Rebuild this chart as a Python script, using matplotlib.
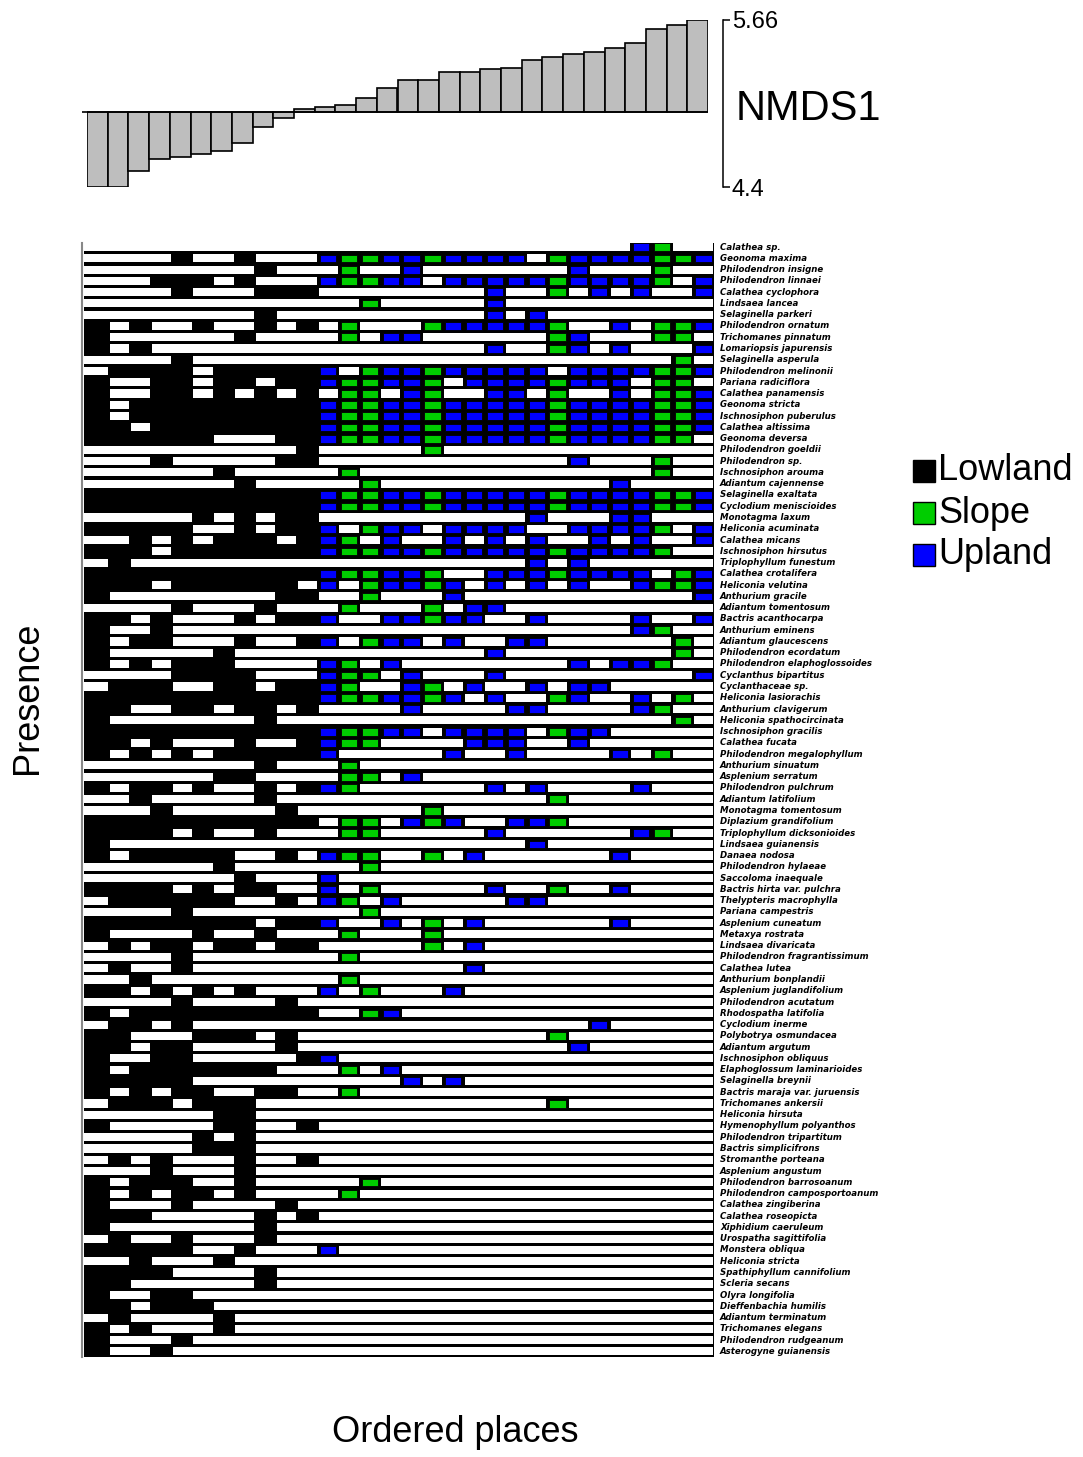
import matplotlib
matplotlib.use('Agg')
import matplotlib.pyplot as plt
from matplotlib.patches import Rectangle

# NMDS1 score of each place, in place order
nmds1 = [4.40, 4.40, 4.52, 4.61, 4.63, 4.65, 4.67, 4.73, 4.85, 4.92,
         4.99, 5.00, 5.02, 5.07, 5.15, 5.21, 5.21, 5.27, 5.27, 5.29,
         5.30, 5.36, 5.38, 5.40, 5.42, 5.45, 5.49, 5.59, 5.62, 5.66]
nmds_ref = 4.965
nmds_ticks = [4.4, 5.66]

site_type = (['Lowland'] * 11 +
             ['Upland', 'Slope', 'Slope', 'Upland', 'Upland', 'Slope', 'Upland',
              'Upland', 'Upland', 'Upland', 'Upland', 'Slope', 'Upland', 'Upland',
              'Upland', 'Upland', 'Slope', 'Slope', 'Upland'])
type_names = ['Lowland', 'Slope', 'Upland']
type_colors = {'Lowland': 'black', 'Slope': '#00CD00', 'Upland': '#0000FF'}

species = [
    'Calathea sp.', 'Geonoma maxima', 'Philodendron insigne', 'Philodendron linnaei',
    'Calathea cyclophora', 'Lindsaea lancea', 'Selaginella parkeri', 'Philodendron ornatum',
    'Trichomanes pinnatum', 'Lomariopsis japurensis', 'Selaginella asperula',
    'Philodendron melinonii', 'Pariana radiciflora', 'Calathea panamensis', 'Geonoma stricta',
    'Ischnosiphon puberulus', 'Calathea altissima', 'Geonoma deversa', 'Philodendron goeldii',
    'Philodendron sp.', 'Ischnosiphon arouma', 'Adiantum cajennense', 'Selaginella exaltata',
    'Cyclodium meniscioides', 'Monotagma laxum', 'Heliconia acuminata', 'Calathea micans',
    'Ischnosiphon hirsutus', 'Triplophyllum funestum', 'Calathea crotalifera',
    'Heliconia velutina', 'Anthurium gracile', 'Adiantum tomentosum', 'Bactris acanthocarpa',
    'Anthurium eminens', 'Adiantum glaucescens', 'Philodendron ecordatum',
    'Philodendron elaphoglossoides', 'Cyclanthus bipartitus', 'Cyclanthaceae sp.',
    'Heliconia lasiorachis', 'Anthurium clavigerum', 'Heliconia spathocircinata',
    'Ischnosiphon gracilis', 'Calathea fucata', 'Philodendron megalophyllum',
    'Anthurium sinuatum', 'Asplenium serratum', 'Philodendron pulchrum', 'Adiantum latifolium',
    'Monotagma tomentosum', 'Diplazium grandifolium', 'Triplophyllum dicksonioides',
    'Lindsaea guianensis', 'Danaea nodosa', 'Philodendron hylaeae', 'Saccoloma inaequale',
    'Bactris hirta var. pulchra', 'Thelypteris macrophylla', 'Pariana campestris',
    'Asplenium cuneatum', 'Metaxya rostrata', 'Lindsaea divaricata',
    'Philodendron fragrantissimum', 'Calathea lutea', 'Anthurium bonplandii',
    'Asplenium juglandifolium', 'Philodendron acutatum', 'Rhodospatha latifolia',
    'Cyclodium inerme', 'Polybotrya osmundacea', 'Adiantum argutum', 'Ischnosiphon obliquus',
    'Elaphoglossum laminarioides', 'Selaginella breynii', 'Bactris maraja var. juruensis',
    'Trichomanes ankersii', 'Heliconia hirsuta', 'Hymenophyllum polyanthos',
    'Philodendron tripartitum', 'Bactris simplicifrons', 'Stromanthe porteana',
    'Asplenium angustum', 'Philodendron barrosoanum', 'Philodendron camposportoanum',
    'Calathea zingiberina', 'Calathea roseopicta', 'Xiphidium caeruleum',
    'Urospatha sagittifolia', 'Monstera obliqua', 'Heliconia stricta',
    'Spathiphyllum cannifolium', 'Scleria secans', 'Olyra longifolia', 'Dieffenbachia humilis',
    'Adiantum terminatum', 'Trichomanes elegans', 'Philodendron rudgeanum',
    'Asterogyne guianensis',
]

# places (0-29) where each species was found
presence = [
    [26, 27],
    [4, 7, 11, 12, 13, 14, 15, 16, 17, 18, 19, 20, 22, 23, 24, 25, 26, 27, 28, 29],
    [8, 12, 15, 23, 27],
    [3, 4, 5, 7, 11, 12, 13, 14, 15, 17, 18, 19, 20, 21, 22, 23, 24, 25, 26, 27, 29],
    [4, 8, 9, 10, 19, 22, 24, 26, 29],
    [13, 19],
    [8, 19, 21],
    [0, 2, 5, 8, 10, 12, 16, 17, 18, 19, 20, 21, 22, 25, 27, 28, 29],
    [0, 7, 12, 14, 15, 22, 23, 27, 28],
    [0, 2, 19, 22, 23, 25, 29],
    [4, 28],
    [1, 2, 3, 4, 6, 7, 8, 9, 10, 11, 13, 14, 15, 16, 17, 18, 19, 20, 21, 23, 24, 25, 26, 27, 28, 29],
    [0, 3, 4, 6, 7, 9, 10, 11, 12, 13, 14, 15, 16, 18, 19, 20, 21, 22, 23, 24, 25, 27, 28],
    [0, 3, 4, 6, 8, 10, 12, 13, 15, 16, 19, 20, 22, 25, 27, 28, 29],
    [0, 2, 3, 4, 5, 6, 7, 8, 9, 10, 11, 12, 13, 14, 15, 16, 17, 18, 19, 20, 21, 22, 23, 24, 25, 26, 27, 28, 29],
    [0, 2, 3, 4, 5, 6, 7, 8, 9, 10, 11, 12, 13, 14, 15, 16, 17, 18, 19, 20, 21, 22, 23, 24, 25, 26, 27, 28, 29],
    [0, 1, 3, 4, 5, 6, 7, 8, 9, 10, 11, 12, 13, 14, 15, 16, 17, 18, 19, 20, 21, 22, 23, 24, 25, 26, 27, 28, 29],
    [0, 1, 2, 3, 4, 5, 9, 10, 11, 12, 13, 14, 15, 16, 17, 18, 19, 20, 21, 22, 23, 24, 25, 26, 27, 28],
    [10, 16],
    [3, 9, 10, 23, 27],
    [6, 12, 27],
    [7, 13, 25],
    [0, 1, 2, 3, 4, 5, 6, 7, 8, 9, 10, 11, 12, 13, 14, 15, 16, 17, 18, 19, 20, 21, 22, 23, 24, 25, 26, 27, 28, 29],
    [0, 1, 2, 3, 4, 5, 6, 7, 8, 9, 10, 11, 12, 13, 14, 15, 16, 17, 18, 19, 20, 21, 22, 23, 24, 25, 26, 27, 28, 29],
    [5, 7, 9, 10, 21, 25, 26],
    [0, 1, 2, 3, 4, 7, 9, 10, 11, 13, 14, 15, 17, 18, 19, 20, 23, 24, 25, 26, 27, 29],
    [2, 4, 6, 7, 8, 10, 11, 12, 14, 17, 19, 21, 24, 26, 29],
    [0, 1, 2, 4, 5, 6, 7, 8, 9, 10, 11, 12, 13, 14, 15, 16, 17, 18, 19, 20, 21, 22, 23, 24, 25, 26, 27],
    [1, 21, 23],
    [0, 1, 2, 3, 4, 5, 6, 7, 8, 9, 10, 11, 12, 13, 14, 15, 16, 19, 20, 21, 22, 23, 24, 25, 26, 28, 29],
    [0, 1, 2, 4, 5, 6, 7, 8, 9, 11, 13, 14, 15, 16, 17, 19, 21, 23, 26, 27, 28, 29],
    [0, 9, 10, 13, 17, 29],
    [4, 8, 12, 16, 18, 19],
    [0, 1, 3, 7, 9, 10, 11, 14, 15, 16, 17, 18, 21, 26, 29],
    [0, 3, 26, 27],
    [0, 2, 3, 7, 10, 11, 13, 14, 15, 17, 20, 21, 28],
    [0, 6, 19, 28],
    [0, 2, 4, 5, 6, 11, 12, 14, 23, 25, 26, 27],
    [4, 5, 6, 7, 11, 12, 13, 15, 19, 29],
    [1, 2, 3, 6, 7, 9, 10, 11, 12, 15, 16, 18, 21, 23, 24],
    [0, 1, 2, 3, 4, 5, 6, 7, 8, 9, 10, 11, 12, 13, 14, 15, 16, 17, 19, 22, 23, 26, 28],
    [0, 1, 4, 5, 7, 8, 10, 15, 20, 21, 26, 27],
    [0, 8, 28],
    [0, 1, 2, 3, 4, 5, 6, 7, 8, 9, 10, 11, 12, 13, 14, 15, 17, 18, 19, 20, 22, 23, 24],
    [0, 1, 3, 7, 10, 11, 12, 13, 18, 19, 20, 23],
    [0, 2, 4, 6, 7, 8, 9, 10, 11, 17, 20, 25, 27],
    [8, 12],
    [6, 7, 12, 13, 15],
    [0, 2, 3, 5, 8, 10, 11, 12, 19, 21, 26],
    [2, 8, 22],
    [3, 9, 16],
    [0, 1, 2, 3, 4, 5, 6, 7, 8, 9, 10, 12, 13, 15, 16, 17, 20, 21, 22],
    [0, 1, 2, 3, 5, 8, 12, 13, 19, 26, 27],
    [0, 21],
    [0, 2, 3, 4, 5, 6, 9, 11, 12, 13, 16, 18, 25],
    [6, 13],
    [7, 11],
    [0, 1, 2, 3, 5, 7, 8, 11, 13, 19, 22, 25],
    [1, 2, 3, 4, 5, 6, 9, 11, 12, 14, 20, 21],
    [4, 13],
    [0, 1, 2, 3, 4, 5, 6, 7, 9, 10, 11, 14, 16, 18, 25],
    [0, 5, 8, 12, 16],
    [1, 3, 4, 6, 7, 9, 10, 16, 18],
    [4, 12],
    [1, 4, 18],
    [2, 12],
    [0, 1, 3, 5, 7, 11, 13, 17],
    [4, 9],
    [0, 2, 3, 4, 5, 6, 7, 8, 9, 10, 13, 14],
    [1, 2, 4, 24],
    [0, 1, 5, 6, 7, 9, 22],
    [0, 1, 3, 4, 9, 23],
    [0, 3, 4, 10, 11],
    [0, 2, 3, 4, 5, 6, 7, 8, 12, 14],
    [0, 1, 2, 3, 4, 15, 17],
    [0, 2, 4, 5, 8, 9, 12],
    [1, 2, 3, 5, 6, 7, 22],
    [6, 7],
    [0, 6, 7, 10],
    [5, 7],
    [5, 6, 7],
    [1, 3, 7, 10],
    [3, 7],
    [0, 2, 3, 4, 7, 13],
    [0, 2, 4, 5, 7, 12],
    [0, 4, 9],
    [0, 1, 2, 8, 10],
    [0, 8],
    [1, 4, 8],
    [0, 1, 2, 3, 4, 7, 11],
    [2, 6],
    [0, 1, 2, 3, 8],
    [0, 1, 8],
    [0, 3, 4],
    [0, 1, 3, 4, 5],
    [1, 6],
    [0, 2, 6],
    [0, 4],
    [0, 3],
]

n_sites = len(nmds1)
n_sp = len(species)
assert len(presence) == n_sp and len(site_type) == n_sites

W, H = 1083, 1457
fig = plt.figure(figsize=(W / 100, H / 100), dpi=100)
plt.rcParams['font.family'] = ['Liberation Sans', 'DejaVu Sans']


def fx(px):
    return px / W


def fy(py):
    return 1 - py / H


# ---- NMDS1 bars on top ----
axb = fig.add_axes([fx(87), fy(187), fx(708) - fx(87), fy(20) - fy(187)])
x = list(range(n_sites))
heights = [v - nmds_ref for v in nmds1]
axb.bar(x, heights, bottom=nmds_ref, width=1.0, color='#BEBEBE',
        edgecolor='black', linewidth=1.2)
axb.hlines(nmds_ref, -0.75, n_sites - 0.5, color='black', lw=1.2, clip_on=False)
axb.set_xlim(-0.5, n_sites - 0.5)
axb.set_ylim(nmds_ticks[0], nmds_ticks[1])
for s in ['top', 'left', 'bottom']:
    axb.spines[s].set_visible(False)
axb.spines['right'].set_position(('outward', 11))
axb.spines['right'].set_linewidth(1.1)
axb.set_xticks([])
axb.yaxis.tick_right()
axb.set_yticks(nmds_ticks)
axb.set_yticklabels(['4.4', '5.66'])
axb.tick_params(axis='y', direction='out', length=5, width=1.1, pad=1, labelsize=17)
axb.text(1.045, 0.47, 'NMDS1', transform=axb.transAxes, fontsize=30,
         ha='left', va='center')

# ---- presence matrix ----
axm = fig.add_axes([fx(81.5), fy(1357), fx(714) - fx(81.5), fy(243) - fy(1357)])
x_left = -0.33
wy = 0.14   # inset of white boxes
cy = 0.17   # inset of coloured cells
axm.set_xlim(x_left, n_sites)
axm.set_ylim(n_sp, wy)
axm.add_patch(Rectangle((x_left + 0.12, wy), n_sites - x_left, n_sp, color='black', lw=0))

for i, cols in enumerate(presence):
    pres = [c in cols for c in range(n_sites)]
    # white sliver at the left edge
    axm.add_patch(Rectangle((x_left + 0.02, i + wy), 0.12, 1 - 2 * wy,
                            facecolor='white', lw=0))
    # runs of absences drawn as white boxes
    c = 0
    while c < n_sites:
        if not pres[c]:
            start = c
            while c < n_sites and not pres[c]:
                c += 1
            x0 = x_left + 0.02 if start == 0 else start + 0.04
            x1 = c - 0.04
            axm.add_patch(Rectangle((x0, i + wy), x1 - x0, 1 - 2 * wy,
                                    facecolor='white', edgecolor='none'))
        else:
            c += 1
    for c in cols:
        t = site_type[c]
        if t == 'Lowland':
            continue
        axm.add_patch(Rectangle((c + 0.11, i + cy), 0.78, 1 - cy - wy,
                                facecolor=type_colors[t], edgecolor='black', lw=0.6))
    axm.text(1.0095, i + 0.5, species[i], transform=axm.get_yaxis_transform(),
             fontsize=6.2, style='italic', weight='bold', family='DejaVu Sans',
             ha='left', va='center')

for s in ['top', 'right', 'bottom']:
    axm.spines[s].set_visible(False)
axm.spines['left'].set_color('#888888')
axm.spines['left'].set_linewidth(1.5)
axm.set_xticks([])
axm.set_yticks([])

fig.text(fx(28), fy(698), 'Presence', rotation=90, fontsize=26, ha='center', va='center')
fig.text(fx(455), fy(1433), 'Ordered places', fontsize=26, ha='center', va='center')

# ---- legend ----
for k, name in enumerate(type_names):
    cyp = 471 + 42 * k
    fig.add_artist(Rectangle((fx(913), fy(cyp + 11)), fx(22), 22 / H,
                             transform=fig.transFigure, facecolor=type_colors[name],
                             edgecolor='black', lw=1.0))
    fig.text(fx(938), fy(cyp), name, fontsize=26, ha='left', va='center')

fig.savefig('out.png', dpi=100)
